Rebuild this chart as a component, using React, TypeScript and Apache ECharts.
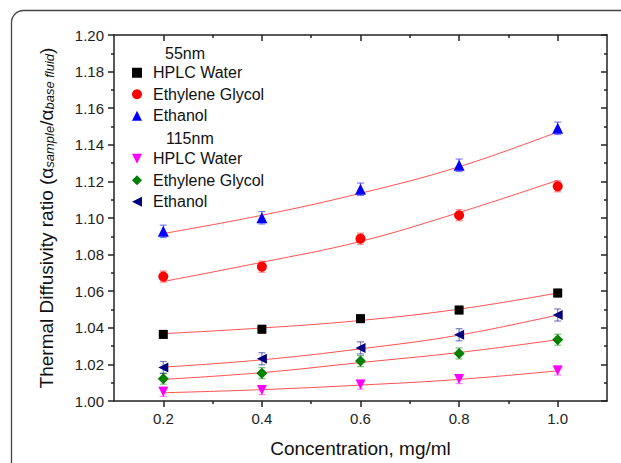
import React, { useEffect, useRef } from "react";
import * as echarts from "echarts";

const concentration = [0.2, 0.4, 0.6, 0.8, 1.0];

// measured points
const water55 = [1.0364, 1.0392, 1.045, 1.0497, 1.059];
const glycol55 = [1.068, 1.0734, 1.0887, 1.1015, 1.1173];
const ethanol55 = [1.0927, 1.1001, 1.1157, 1.1288, 1.149];
const water115 = [1.005, 1.006, 1.009, 1.012, 1.0167];
const glycol115 = [1.0122, 1.0152, 1.0218, 1.026, 1.0335];
const ethanol115 = [1.0183, 1.0231, 1.029, 1.0362, 1.047];

// error bar half-widths
const waterErr55 = [0.0021, 0.0021, 0.0021, 0.0021, 0.0021];
const glycolErr55 = [0.003, 0.003, 0.003, 0.003, 0.003];
const ethanolErr55 = [0.0034, 0.0034, 0.0034, 0.0034, 0.0034];
const waterErr115 = [0.0025, 0.0025, 0.0025, 0.0025, 0.0025];
const glycolErr115 = [0.003, 0.003, 0.003, 0.003, 0.003];
const ethanolErr115 = [0.0033, 0.0033, 0.0033, 0.0033, 0.0033];

// fitted curves
const fitWater55 = [1.0368, 1.0399, 1.044, 1.0502, 1.059];
const fitGlycol55 = [1.0653, 1.0758, 1.0872, 1.103, 1.1206];
const fitEthanol55 = [1.0915, 1.1015, 1.1135, 1.128, 1.147];
const fitWater115 = [1.0045, 1.0062, 1.0087, 1.0118, 1.0165];
const fitGlycol115 = [1.0118, 1.0155, 1.021, 1.0265, 1.0335];
const fitEthanol115 = [1.0185, 1.0225, 1.0285, 1.036, 1.047];

const xMajor = [0.2, 0.4, 0.6, 0.8, 1.0];
const xMinor = [0.3, 0.5, 0.7, 0.9];

const FONT = "Liberation Sans, Arial, sans-serif";

const downTri = "path://M0,0 L10,0 L5,10 Z";
const leftTri = "path://M10,0 L10,10 L0,5 Z";

type S = {
  name: string;
  values: number[];
  err: number[];
  fit: number[];
  color: string;
  errColor: string;
  symbol: string;
  size: number;
};

const groups: S[] = [
  { name: "HPLC Water 55nm", values: water55, err: waterErr55, fit: fitWater55, color: "#000000", errColor: "rgba(0,0,0,0.45)", symbol: "rect", size: 9 },
  { name: "Ethylene Glycol 55nm", values: glycol55, err: glycolErr55, fit: fitGlycol55, color: "#ff0000", errColor: "rgba(255,0,0,0.5)", symbol: "circle", size: 10 },
  { name: "Ethanol 55nm", values: ethanol55, err: ethanolErr55, fit: fitEthanol55, color: "#0000ff", errColor: "rgba(0,0,255,0.5)", symbol: "triangle", size: 11 },
  { name: "HPLC Water 115nm", values: water115, err: waterErr115, fit: fitWater115, color: "#ff00ff", errColor: "rgba(255,0,255,0.5)", symbol: downTri, size: 10 },
  { name: "Ethylene Glycol 115nm", values: glycol115, err: glycolErr115, fit: fitGlycol115, color: "#008000", errColor: "rgba(0,128,0,0.5)", symbol: "diamond", size: 11 },
  { name: "Ethanol 115nm", values: ethanol115, err: ethanolErr115, fit: fitEthanol115, color: "#000080", errColor: "rgba(0,0,128,0.5)", symbol: leftTri, size: 10 },
];

const axisColor = "#222";

export default function App() {
  const ref = useRef<HTMLDivElement>(null);
  useEffect(() => {
    if (!ref.current) return;
    const chart = echarts.init(ref.current, undefined, { renderer: "svg" });

    const series: any[] = [];
    groups.forEach((g) => {
      series.push({
        type: "line",
        name: g.name + " fit",
        data: concentration.map((x, i) => [x, g.fit[i]]),
        smooth: 0.4,
        showSymbol: false,
        symbol: "none",
        lineStyle: { color: "#ff5050", width: 1 },
        z: 1,
        silent: true,
      });
      series.push({
        type: "custom",
        name: g.name + " err",
        data: concentration.map((x, i) => [x, g.values[i], g.err[i]]),
        renderItem: (params: any, api: any) => {
          const x = api.value(0);
          const y = api.value(1);
          const e = api.value(2);
          const top = api.coord([x, y + e]);
          const bot = api.coord([x, y - e]);
          const w = 3.5;
          const st = { stroke: g.errColor, lineWidth: 1.2 };
          return {
            type: "group",
            children: [
              { type: "line", shape: { x1: top[0], y1: top[1], x2: bot[0], y2: bot[1] }, style: st },
              { type: "line", shape: { x1: top[0] - w, y1: top[1], x2: top[0] + w, y2: top[1] }, style: st },
              { type: "line", shape: { x1: bot[0] - w, y1: bot[1], x2: bot[0] + w, y2: bot[1] }, style: st },
            ],
          };
        },
        z: 2,
        silent: true,
      });
      series.push({
        type: "scatter",
        name: g.name,
        data: concentration.map((x, i) => [x, g.values[i]]),
        symbol: g.symbol,
        symbolSize: g.size,
        itemStyle: { color: g.color, opacity: 1 },
        z: 3,
      });
    });

    const legendCommon = {
      orient: "vertical",
      left: 127,
      itemWidth: 10,
      itemHeight: 10,
      itemGap: 0,
      selectedMode: false,
      formatter: (n: string) => n.replace(/ \d+nm$/, ""),
      textStyle: { fontFamily: FONT, fontSize: 16, color: "#111", lineHeight: 21.5, padding: [0, 0, 0, 6] },
    };

    const baseX = {
      type: "value",
      min: 0.1,
      max: 1.1,
      splitLine: { show: false },
      axisLine: { show: true, onZero: false, lineStyle: { color: axisColor, width: 1.5 } },
    };

    chart.setOption({
      animation: false,
      backgroundColor: "#ffffff",
      grid: { left: 114, right: 14, top: 35, bottom: 61, containLabel: false },
      graphic: [
        {
          type: "rect",
          shape: { x: 11.5, y: 10.5, width: 700, height: 600, r: 12 },
          style: { fill: "none", stroke: "#444", lineWidth: 1.3 },
          silent: true,
        },
        { type: "text", left: 165, top: 45, style: { text: "55nm", font: `16px ${FONT}`, fill: "#111" } },
        { type: "text", left: 166, top: 130, style: { text: "115nm", font: `16px ${FONT}`, fill: "#111" } },
      ],
      legend: [
        {
          ...legendCommon,
          top: 57,
          data: groups.slice(0, 3).map((g) => ({ name: g.name, icon: g.symbol })),
        },
        {
          ...legendCommon,
          top: 143,
          data: groups.slice(3).map((g) => ({ name: g.name, icon: g.symbol })),
        },
      ],
      xAxis: [
        {
          ...baseX,
          position: "bottom",
          name: "Concentration, mg/ml",
          nameLocation: "middle",
          nameGap: 38,
          nameTextStyle: { fontFamily: FONT, fontSize: 19, color: "#111" },
          axisTick: { show: true, inside: false, length: 6, customValues: xMajor, lineStyle: { color: axisColor, width: 1.5 } },
          axisLabel: {
            show: true,
            customValues: xMajor,
            margin: 10,
            fontFamily: FONT,
            fontSize: 15,
            color: "#222",
            formatter: (v: number) => v.toFixed(1),
          },
        },
        {
          ...baseX,
          position: "bottom",
          axisLine: { show: false },
          axisTick: { show: true, inside: false, length: 3, customValues: xMinor, lineStyle: { color: axisColor, width: 1.5 } },
          axisLabel: { show: false },
        },
        {
          ...baseX,
          position: "top",
          axisTick: { show: true, inside: true, length: 6, customValues: xMajor, lineStyle: { color: axisColor, width: 1.5 } },
          axisLabel: { show: false },
        },
        {
          ...baseX,
          position: "top",
          axisLine: { show: false },
          axisTick: { show: true, inside: true, length: 3, customValues: xMinor, lineStyle: { color: axisColor, width: 1.5 } },
          axisLabel: { show: false },
        },
      ],
      yAxis: [
        {
          type: "value",
          min: 1.0,
          max: 1.2,
          interval: 0.02,
          position: "left",
          splitLine: { show: false },
          axisLine: { show: true, onZero: false, lineStyle: { color: axisColor, width: 1.5 } },
          axisTick: { show: true, inside: false, length: 6, lineStyle: { color: axisColor, width: 1.5 } },
          minorTick: { show: true, splitNumber: 2, length: 3, lineStyle: { color: axisColor, width: 1.5 } },
          axisLabel: { fontFamily: FONT, fontSize: 15, color: "#222", margin: 10, formatter: (v: number) => v.toFixed(2) },
          name: "{a|Thermal Diffusivity ratio (α}{s|sample}{a|/α}{s|base fluid}{a|)}",
          nameLocation: "middle",
          nameGap: 58,
          nameTextStyle: {
            rich: {
              a: { fontFamily: FONT, fontSize: 19, color: "#111", lineHeight: 24, verticalAlign: "bottom" },
              s: { fontFamily: FONT, fontSize: 13, fontStyle: "italic", color: "#111", lineHeight: 18, verticalAlign: "bottom" },
            },
          },
        },
        {
          type: "value",
          min: 1.0,
          max: 1.2,
          interval: 0.02,
          position: "right",
          splitLine: { show: false },
          axisLine: { show: true, onZero: false, lineStyle: { color: axisColor, width: 1.5 } },
          axisTick: { show: true, inside: true, length: 6, lineStyle: { color: axisColor, width: 1.5 } },
          minorTick: { show: true, splitNumber: 2, length: 3, lineStyle: { color: axisColor, width: 1.5 } },
          axisLabel: { show: false },
        },
      ],
      series,
    });

    return () => chart.dispose();
  }, []);

  return (
    <div
      ref={ref}
      style={{ position: "fixed", left: 0, top: 0, width: 621, height: 463 }}
    />
  );
}
